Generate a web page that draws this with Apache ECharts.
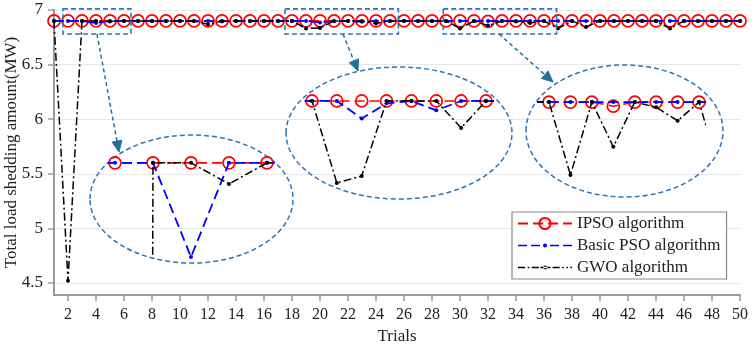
<!DOCTYPE html>
<html><head><meta charset="utf-8">
<script src="https://cdn.jsdelivr.net/npm/echarts@6/dist/echarts.min.js"></script>
<style>html,body{margin:0;padding:0;background:#fff}#c{width:754px;height:344px}</style>
</head><body><div id="c"></div>
<script>
// ---------- data ----------
const trials = [1,2,3,4,5,6,7,8,9,10,11,12,13,14,15,16,17,18,19,20,21,22,23,24,25,
                26,27,28,29,30,31,32,33,34,35,36,37,38,39,40,41,42,43,44,45,46,47,48,49,50];
const ipso = [6.9,6.9,6.9,6.9,6.9,6.9,6.9,6.9,6.9,6.9,
              6.9,6.9,6.9,6.9,6.9,6.9,6.9,6.9,6.9,6.9,
              6.9,6.9,6.9,6.9,6.9,6.9,6.9,6.9,6.9,6.9,
              6.9,6.896,6.9,6.9,6.9,6.9,6.9,6.9,6.9,6.9,
              6.9,6.9,6.9,6.9,6.9,6.9,6.9,6.9,6.9,6.9];
const pso  = [6.9,6.9,6.9,6.88,6.9,6.9,6.9,6.9,6.9,6.9,
              6.9,6.9,6.895,6.9,6.9,6.9,6.9,6.9,6.9,6.885,
              6.898,6.9,6.892,6.9,6.9,6.9,6.9,6.9,6.9,6.9,
              6.9,6.9,6.9,6.9,6.9,6.9,6.9,6.9,6.9,6.9,
              6.9,6.9,6.9,6.9,6.9,6.9,6.9,6.9,6.9,6.9];
const gwo  = [6.9,4.52,6.9,6.9,6.8955,6.9,6.9,6.9,6.9,6.9,
              6.9,6.87,6.9,6.9,6.9,6.9,6.9,6.9,6.83,6.836,
              6.9,6.9,6.9,6.877,6.9,6.9,6.9,6.9,6.9,6.83,
              6.9,6.857,6.9,6.895,6.882,6.9,6.83,6.9,6.845,6.9,
              6.9,6.9,6.9,6.9,6.83,6.9,6.9,6.9,6.9,6.9];
const xTickValues = [2,4,6,8,10,12,14,16,18,20,22,24,26,28,30,32,34,36,38,40,42,44,46,48,50];
const yTickValues = [4.5,5,5.5,6,6.5,7];
const seriesNames = ['IPSO algorithm','Basic PSO algorithm','GWO algorithm'];

// ---------- layout / zoomed views ----------
const insets = [
  {xr:[1.85,6.15], yr:[6.88,6.904], rect:[109.3,144,163.4,113]},
  {xr:[17.75,25.25], yr:[6.82,6.915], rect:[305.8,83.4,186.4,111.3]},
  {xr:[28.5,36.25], yr:[6.82,6.915], rect:[538.3,86.4,166.1,99]}
];
const boxes = [[1.64,6.5],[17.5,25.6],[28.8,36.9]];
const boxY = [6.78,7.01];
const ellipses = [[191.5,199,101.5,64],[399,133,113,66],[624.5,131,98.5,66]];
const arrows = [[97,34,119,152],[343,34,358,71],[499,34,553,82]];

const FONT = 'Liberation Serif';
// legend icons (dashed line with a small dot), drawn in a 54x4 box
const psoIcon = 'path://M0,1.2h9v1.6h-9Z M13,1.2h9v1.6h-9Z M32,1.2h9v1.6h-9Z M45,1.2h9v1.6h-9Z M25,2a2,2 0 1,0 4,0a2,2 0 1,0 -4,0Z';
const gwoIcon = 'path://M0,1.3h7v1.4h-7Z M9.5,1.3h1.6v1.4h-1.6Z M13.5,1.3h7v1.4h-7Z M22,1.3h10v1.4h-10Z M34,1.3h7v1.4h-7Z M43.5,1.3h1.6v1.4h-1.6Z M47.5,1.3h1.6v1.4h-1.6Z M51.5,1.3h1.6v1.4h-1.6Z M25,2a2,2 0 1,0 4,0a2,2 0 1,0 -4,0Z';

const styles = [
  {color:'#ff0000', lineStyle:{color:'#ff0000',type:[10,5],width:1.6}, symbol:'circle', symbolSize:12,
   itemStyle:{color:'rgba(255,255,255,0)',borderColor:'#ff0000',borderWidth:1.7}},
  {color:'#0000ff', lineStyle:{color:'#0000ff',type:[10,5],width:1.8}, symbol:'circle', symbolSize:4,
   itemStyle:{color:'#0000ff'}},
  {color:'#000000', lineStyle:{color:'#000000',type:[8,3,2,3],width:1.5}, symbol:'circle', symbolSize:4,
   itemStyle:{color:'#000000'}}
];
const datasets = [ipso, pso, gwo];
function pairs(arr){ return trials.map((t,i)=>[t,arr[i]]); }

const grids = [{left:54, top:10, width:686, height:285, outerBoundsMode:'none'}];
const xAxes = [{
  gridIndex:0, type:'value', min:1, max:50,
  axisLine:{show:true, lineStyle:{color:'#999', width:2}},
  axisTick:{show:true, length:6, lineStyle:{color:'#999', width:1.5}, customValues:xTickValues},
  axisLabel:{color:'#222', fontFamily:FONT, fontSize:16, margin:12, customValues:xTickValues},
  splitLine:{show:false},
  name:'Trials', nameLocation:'middle', nameGap:33, nameMoveOverlap:false,
  nameTextStyle:{color:'#222', fontFamily:FONT, fontSize:17}
}];
const yAxes = [{
  gridIndex:0, type:'value', min:4.39, max:7,
  axisLine:{show:true, lineStyle:{color:'#999', width:2}},
  axisTick:{show:true, length:6, lineStyle:{color:'#999', width:1.5}, customValues:yTickValues},
  axisLabel:{color:'#222', fontFamily:FONT, fontSize:17, margin:11, customValues:yTickValues},
  splitLine:{show:true, lineStyle:{color:'#e8e8e8', width:1}},
  name:'Total load shedding amount(MW)', nameLocation:'middle', nameGap:34, nameRotate:90, nameMoveOverlap:false,
  nameTextStyle:{color:'#222', fontFamily:FONT, fontSize:17}
}];
const series = [];
datasets.forEach((d,k)=>{
  series.push(Object.assign({type:'line', name:seriesNames[k], xAxisIndex:0, yAxisIndex:0,
    data:pairs(d), clip:true, z:2+k}, styles[k]));
});
insets.forEach((ins,j)=>{
  const gi = j+1;
  grids.push({left:ins.rect[0], top:ins.rect[1], width:ins.rect[2], height:ins.rect[3], outerBoundsMode:'none'});
  xAxes.push({gridIndex:gi, type:'value', min:ins.xr[0], max:ins.xr[1], show:false});
  yAxes.push({gridIndex:gi, type:'value', min:ins.yr[0], max:ins.yr[1], show:false});
  datasets.forEach((d,k)=>{
    series.push(Object.assign({type:'line', name:seriesNames[k], xAxisIndex:gi, yAxisIndex:gi,
      data:pairs(d), clip:true, z:2+k}, styles[k]));
  });
});

const chart = echarts.init(document.getElementById('c'), null, {renderer:'canvas'});
chart.setOption({
  animation:false,
  backgroundColor:'#fff',
  grid:grids, xAxis:xAxes, yAxis:yAxes, series:series,
  legend:{
    data:[{name:seriesNames[0]}, {name:seriesNames[1], icon:psoIcon}, {name:seriesNames[2], icon:gwoIcon}],
    orient:'vertical', left:512, top:212, symbolKeepAspect:true,
    backgroundColor:'#fff', borderColor:'#888', borderWidth:1.2, borderRadius:0,
    padding:[3,6,3,5], itemGap:5, itemWidth:54, itemHeight:14,
    textStyle:{color:'#222', fontFamily:FONT, fontSize:17},
    z:10
  }
});

// ---------- annotations ----------
const g = [];
const BOXC = '#2e75b6';
boxes.forEach(b=>{
  const p1 = chart.convertToPixel({gridIndex:0}, [b[0], boxY[1]]);
  const p2 = chart.convertToPixel({gridIndex:0}, [b[1], boxY[0]]);
  g.push({type:'rect', z:20, shape:{x:p1[0], y:p1[1], width:p2[0]-p1[0], height:p2[1]-p1[1]},
    style:{fill:'none', stroke:BOXC, lineWidth:1.6, lineDash:[5,3]}});
});
ellipses.forEach(e=>{
  g.push({type:'ellipse', z:1, shape:{cx:e[0], cy:e[1], rx:e[2], ry:e[3]},
    style:{fill:'none', stroke:BOXC, lineWidth:1.5, lineDash:[5,3]}});
});
const ARC = '#21719c';
arrows.forEach(a=>{
  const [x1,y1,x2,y2] = a;
  const dx=x2-x1, dy=y2-y1, L=Math.hypot(dx,dy), ux=dx/L, uy=dy/L;
  const hl=11, hw=5;
  const bx=x2-ux*hl, by=y2-uy*hl;
  g.push({type:'line', z:20, shape:{x1:x1,y1:y1,x2:bx,y2:by},
    style:{stroke:ARC, lineWidth:1.5, lineDash:[4,3]}});
  g.push({type:'polygon', z:20, shape:{points:[[x2,y2],[bx-uy*hw,by+ux*hw],[bx+uy*hw,by-ux*hw]]},
    style:{fill:ARC, stroke:ARC, lineWidth:1}});
});
chart.setOption({graphic:{elements:g}});
</script>
</body></html>
